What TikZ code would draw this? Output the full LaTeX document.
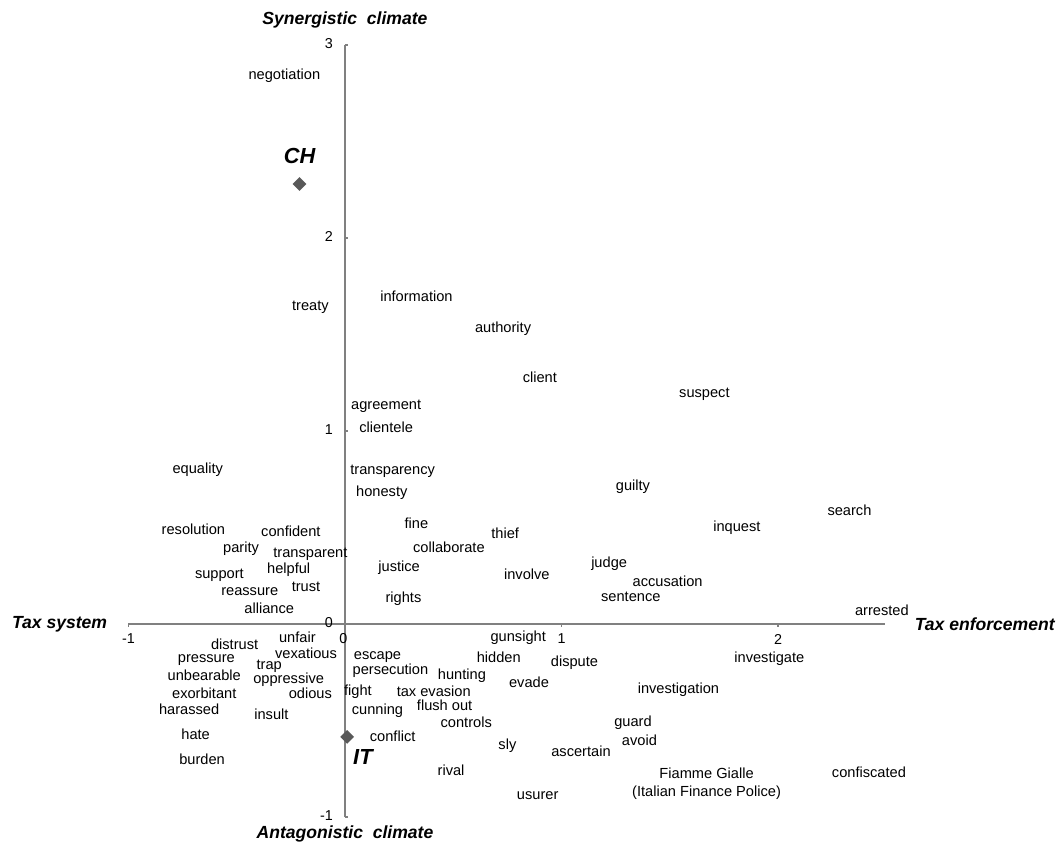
\documentclass[tikz,border=0pt]{standalone}
\usepackage{fontspec}
\setmainfont{Liberation Sans}
\usetikzlibrary{positioning,shapes.geometric}

\begin{document}
\begin{tikzpicture}[x=5.4125cm,y=4.825cm,
		word/.style={inner sep=0pt,text=black,font=\fontsize{10.4}{12.8}\selectfont},
		ticklabel/.style={inner sep=0pt,text=black,font=\fontsize{10.2}{12}\selectfont},
		axistitle/.style={inner sep=0pt,font=\fontsize{12.5}{15}\selectfont\bfseries\itshape},
		country/.style={diamond,fill=black!65,inner sep=0pt,minimum width=0.35cm,minimum height=0.35cm},
		countrylabel/.style={inner sep=0pt,font=\fontsize{15.5}{18}\selectfont\bfseries\itshape},
		axisline/.style={draw=black!50,line width=1.3pt}]
	\useasboundingbox (-1.5935,-1.1295) rectangle (3.3025,3.2332);
	% axes
	\coordinate (xmin) at (-1,0);
	\coordinate (xmax) at (2.494,0);
	\coordinate (ymin) at (0,-1);
	\coordinate (ymax) at (0,3);
	\draw[axisline] (xmin) -- (xmax);
	\draw[axisline] (ymin) -- (ymax);
	\foreach \x in {-1,1,2} {
		\draw[axisline,line width=0.8pt] (\x,0) -- ++(0,-0.016);
		\node[ticklabel] (xtick\x) at (\x,-0.078) {\x};
	}
	\node[ticklabel] (xtick0) at (-0.008,-0.077) {0};
	\foreach \y in {-1,1,2,3} {
		\draw[axisline,line width=0.8pt] (0,\y) -- ++(0.014,0);
	}
	\foreach \y in {-1,0,1,2,3}
		\node[ticklabel,anchor=east] (ytick\y) at (-0.055,\y+0.006) {\y};
	\node[axistitle] [above=12pt of ymax] (synergistic) {Synergistic\ \ climate};
	\node[axistitle] [below=6pt of ymin] (antagonistic) {Antagonistic\ \ climate};
	\node[axistitle] [left=15pt of xmin] (taxsystem) {Tax system};
	\node[axistitle] [right=21pt of xmax] (taxenforcement) {Tax enforcement};
	% countries
	\node[country] (ch) at (-0.21,2.28) {};
	\node[countrylabel] [above=9pt of ch] (chlabel) {CH};
	\node[country] (it) at (0.01,-0.585) {};
	\node[countrylabel] [below right=6pt and 1.5pt of it] (itlabel) {IT};
	% words above the axis
	\node[word] (negotiation) at (-0.28,2.84) {negotiation};
	\node[word] (treaty) at (-0.16,1.64) {treaty};
	\node[word] (information) at (0.33,1.70) {information};
	\node[word] (authority) at (0.73,1.53) {authority};
	\node[word] (client) at (0.90,1.28) {client};
	\node[word] (suspect) at (1.66,1.19) {suspect};
	\node[word] (agreement) at (0.19,1.13) {agreement};
	\node[word] (clientele) at (0.19,1.02) {clientele};
	\node[word] (equality) at (-0.68,0.80) {equality};
	\node[word] (transparency) at (0.22,0.79) {transparency};
	\node[word] (honesty) at (0.17,0.68) {honesty};
	\node[word] (guilty) at (1.33,0.71) {guilty};
	\node[word] (search) at (2.33,0.59) {search};
	\node[word] (inquest) at (1.81,0.50) {inquest};
	\node[word] (resolution) at (-0.70,0.49) {resolution};
	\node[word] (confident) at (-0.25,0.48) {confident};
	\node[word] (fine) at (0.33,0.52) {fine};
	\node[word] (thief) at (0.74,0.47) {thief};
	\node[word] (collaborate) at (0.48,0.40) {collaborate};
	\node[word] (parity) at (-0.48,0.39) {parity};
	\node[word] (transparent) at (-0.16,0.36) {transparent};
	\node[word] (justice) at (0.25,0.29) {justice};
	\node[word] (involve) at (0.84,0.26) {involve};
	\node[word] (judge) at (1.22,0.31) {judge};
	\node[word] (helpful) at (-0.26,0.28) {helpful};
	\node[word] (support) at (-0.58,0.25) {support};
	\node[word] (accusation) at (1.49,0.22) {accusation};
	\node[word] (trust) at (-0.18,0.19) {trust};
	\node[word] (reassure) at (-0.44,0.17) {reassure};
	\node[word] (rights) at (0.27,0.13) {rights};
	\node[word] (sentence) at (1.32,0.14) {sentence};
	\node[word] (alliance) at (-0.35,0.08) {alliance};
	\node[word] (arrested) at (2.48,0.07) {arrested};
	% words below the axis
	\node[word] (unfair) at (-0.22,-0.07) {unfair};
	\node[word] (distrust) at (-0.51,-0.104) {distrust};
	\node[word] (gunsight) at (0.80,-0.07) {gunsight};
	\node[word] (vexatious) at (-0.18,-0.15) {vexatious};
	\node[word] (pressure) at (-0.64,-0.188) {pressure};
	\node[word] (escape) at (0.15,-0.17) {escape};
	\node[word] (hidden) at (0.71,-0.17) {hidden};
	\node[word] (dispute) at (1.06,-0.20) {dispute};
	\node[word] (investigate) at (1.96,-0.18) {investigate};
	\node[word] (trap) at (-0.35,-0.22) {trap};
	\node[word] (persecution) at (0.21,-0.24) {persecution};
	\node[word] (hunting) at (0.54,-0.27) {hunting};
	\node[word] (unbearable) at (-0.65,-0.265) {unbearable};
	\node[word] (oppressive) at (-0.26,-0.29) {oppressive};
	\node[word] (evade) at (0.85,-0.30) {evade};
	\node[word] (exorbitant) at (-0.65,-0.36) {exorbitant};
	\node[word] (odious) at (-0.16,-0.36) {odious};
	\node[word] (fight) at (0.06,-0.35) {fight};
	\node[word] (taxevasion) at (0.41,-0.35) {tax evasion};
	\node[word] (investigation) at (1.54,-0.34) {investigation};
	\node[word] (flushout) at (0.46,-0.42) {flush out};
	\node[word] (harassed) at (-0.72,-0.44) {harassed};
	\node[word] (cunning) at (0.15,-0.45) {cunning};
	\node[word] (insult) at (-0.34,-0.47) {insult};
	\node[word] (controls) at (0.56,-0.51) {controls};
	\node[word] (guard) at (1.33,-0.51) {guard};
	\node[word] (hate) at (-0.69,-0.57) {hate};
	\node[word] (conflict) at (0.22,-0.58) {conflict};
	\node[word] (avoid) at (1.36,-0.60) {avoid};
	\node[word] (sly) at (0.75,-0.63) {sly};
	\node[word] (ascertain) at (1.09,-0.66) {ascertain};
	\node[word] (burden) at (-0.66,-0.70) {burden};
	\node[word] (rival) at (0.49,-0.76) {rival};
	\node[word,align=center] (fiamme) at (1.67,-0.83) {Fiamme Gialle\\(Italian Finance Police)};
	\node[word] (confiscated) at (2.42,-0.77) {confiscated};
	\node[word] (usurer) at (0.89,-0.89) {usurer};
\end{tikzpicture}
\end{document}
